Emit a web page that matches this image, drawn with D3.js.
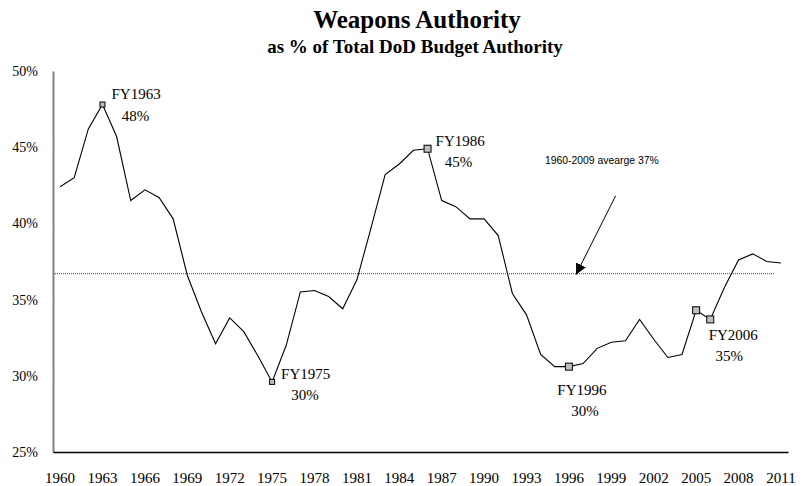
<!DOCTYPE html>
<html>
<head>
<meta charset="utf-8">
<script src="https://cdn.jsdelivr.net/npm/d3@7"></script>
<style>
  html, body { margin: 0; padding: 0; background: #fff; }
  svg { display: block; }
</style>
</head>
<body>
<svg id="chart" width="802" height="486"></svg>
<script>
// ---- Data ----
const years = d3.range(1960, 2012);
const weaponsShare = [
  42.4, 43.0, 46.2, 47.8, 45.7, 41.5, 42.2, 41.7, 40.3, 36.6,
  34.2, 32.1, 33.8, 32.9, 31.3, 29.6, 32.0, 35.5, 35.6, 35.2,
  34.4, 36.3, 39.7, 43.2, 43.9, 44.8, 44.9, 41.5, 41.1, 40.3,
  40.3, 39.2, 35.4, 34.0, 31.4, 30.6, 30.6, 30.8, 31.8, 32.2,
  32.3, 33.7, 32.4, 31.2, 31.4, 34.3, 33.7, 35.8, 37.6, 38.0,
  37.5, 37.4
];
const averageValue = 36.7;
const averageLabel = "1960-2009 avearge 37%";
const yTicks = [25, 30, 35, 40, 45, 50];
const xTickYears = d3.range(1960, 2012, 3);
const highlightYears = [1963, 1975, 1986, 1996, 2005, 2006];
const callouts = [
  { year: 1963, name: "FY1963", pct: "48%" },
  { year: 1975, name: "FY1975", pct: "30%" },
  { year: 1986, name: "FY1986", pct: "45%" },
  { year: 1996, name: "FY1996", pct: "30%" },
  { year: 2006, name: "FY2006", pct: "35%" }
];
const titleText = "Weapons Authority";
const subtitleText = "as % of Total DoD Budget Authority";

// ---- Layout ----
const plotLeft = 53, plotRight = 788, plotTop = 71, plotBottom = 452;
const svg = d3.select("#chart");

const x = d3.scaleBand().domain(years).range([plotLeft, plotRight]).padding(0);
const bw = x.bandwidth();
const xc = yr => x(1960) + bw / 2 + (yr - 1960) * bw; // continuous year -> px
const y = d3.scaleLinear().domain([25, 50]).range([plotBottom, plotTop]);

const serif = "'Liberation Serif', 'Times New Roman', serif";
const sans = "'Liberation Sans', Arial, sans-serif";

// Titles
svg.append("text").attr("x", 417).attr("y", 28).attr("text-anchor", "middle")
  .attr("font-family", serif).attr("font-weight", "bold").attr("font-size", 25)
  .text(titleText);
svg.append("text").attr("x", 415).attr("y", 53).attr("text-anchor", "middle")
  .attr("font-family", serif).attr("font-weight", "bold").attr("font-size", 19)
  .text(subtitleText);

// Y axis
const yAxis = d3.axisLeft(y).tickValues(yTicks).tickSize(0).tickPadding(15)
  .tickFormat(d => d + "%");
const gy = svg.append("g").attr("transform", `translate(${plotLeft},0)`).call(yAxis);
gy.select(".domain").attr("stroke", "#808080").attr("stroke-width", 2);
gy.selectAll("text").attr("font-family", serif).attr("font-size", 14).attr("fill", "#000");

// X axis
const xAxis = d3.axisBottom(x).tickValues(xTickYears).tickSize(0).tickPadding(20);
const gx = svg.append("g").attr("transform", `translate(0,${plotBottom})`).call(xAxis);
gx.select(".domain").attr("stroke", "#000").attr("stroke-width", 1.5);
gx.selectAll("text").attr("font-family", serif).attr("font-size", 15).attr("fill", "#000");

// Average dotted line
svg.append("line")
  .attr("x1", plotLeft).attr("x2", xc(2010.5))
  .attr("y1", y(averageValue)).attr("y2", y(averageValue))
  .attr("stroke", "#444").attr("stroke-width", 1).attr("stroke-dasharray", "1,1");

// Series line
const line = d3.line().x((d, i) => x(years[i]) + bw / 2).y(d => y(d));
svg.append("path").datum(weaponsShare).attr("d", line)
  .attr("fill", "none").attr("stroke", "#000").attr("stroke-width", 1.1);

// Markers
highlightYears.forEach(yr => {
  const v = weaponsShare[years.indexOf(yr)];
  const s = (yr === 1963 || yr === 1975) ? 5 : 7;
  svg.append("rect")
    .attr("x", x(yr) + bw / 2 - s / 2).attr("y", y(v) - s / 2)
    .attr("width", s).attr("height", s)
    .attr("fill", "#bfbfbf").attr("stroke", "#000").attr("stroke-width", 1);
});

// Callout labels (offsets relative to each point)
const offsets = {
  1963: { nx: 9, ny: -6, px: 33, py: 16, anchor: "start" },
  1975: { nx: 9, ny: -3, px: 33, py: 18, anchor: "start" },
  1986: { nx: 8, ny: -3, px: 31, py: 18, anchor: "start" },
  1996: { nx: 13, ny: 28, px: 16, py: 49, anchor: "middle" },
  2006: { nx: 23, ny: 21, px: 19, py: 42, anchor: "middle" }
};
callouts.forEach(c => {
  const v = weaponsShare[years.indexOf(c.year)];
  const cx = x(c.year) + bw / 2, cy = y(v);
  const o = offsets[c.year];
  svg.append("text").attr("x", cx + o.nx).attr("y", cy + o.ny)
    .attr("text-anchor", o.anchor)
    .attr("font-family", serif).attr("font-size", 15).attr("fill", "#000")
    .text(c.name);
  svg.append("text").attr("x", cx + o.px).attr("y", cy + o.py)
    .attr("text-anchor", "middle")
    .attr("font-family", serif).attr("font-size", 15).attr("fill", "#000")
    .text(c.pct);
});

// Average annotation text + arrow
svg.append("text").attr("x", xc(1994.3)).attr("y", 164)
  .attr("font-family", sans).attr("font-size", 10.4).attr("fill", "#000")
  .text(averageLabel);

const defs = svg.append("defs");
defs.append("marker").attr("id", "arrowhead")
  .attr("viewBox", "0 0 10 10").attr("refX", 10).attr("refY", 5)
  .attr("markerWidth", 11).attr("markerHeight", 11).attr("markerUnits", "userSpaceOnUse")
  .attr("orient", "auto")
  .append("path").attr("d", "M0,0 L10,5 L0,10 Z").attr("fill", "#000");

svg.append("line")
  .attr("x1", xc(1999.3)).attr("y1", y(41.8))
  .attr("x2", xc(1996.5)).attr("y2", y(averageValue) + 1)
  .attr("stroke", "#000").attr("stroke-width", 1)
  .attr("marker-end", "url(#arrowhead)");
</script>
</body>
</html>
